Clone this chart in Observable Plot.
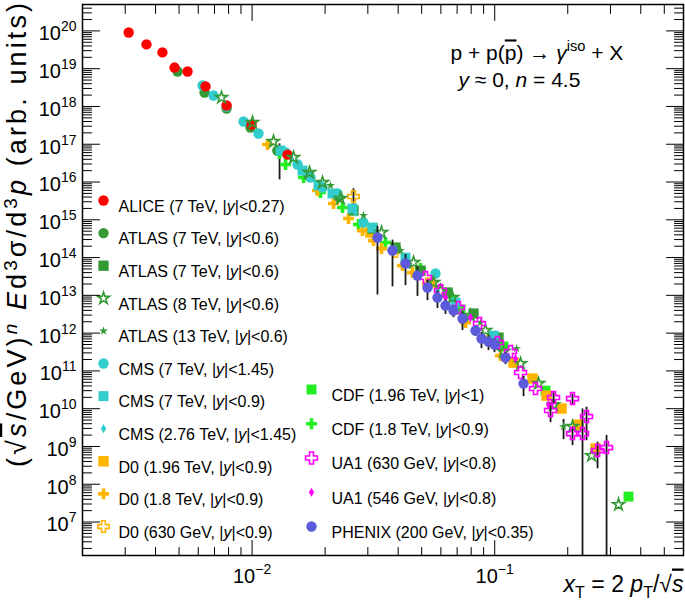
<!DOCTYPE html>
<html><head><meta charset="utf-8">
<script src="https://cdn.jsdelivr.net/npm/d3@7"></script>
<script src="https://cdn.jsdelivr.net/npm/@observablehq/plot@0.6"></script>
<style>
html,body{margin:0;padding:0;background:#fff;}
#chart svg{display:block;}
</style></head><body><div id="chart"></div>
<script>
const FONT = "'Liberation Sans', Arial, Helvetica, sans-serif";

// ---- axes ----
const xDomain = [0.002, 0.6];
const yDomain = [1.3e6, 5e20];
const yTickExponents = [7, 8, 9, 10, 11, 12, 13, 14, 15, 16, 17, 18, 19, 20];
const xTickExponents = [-2, -1];
const minorMultipliers = [2, 3, 4, 5, 6, 7, 8, 9];

// ---- data (x_T, scaled cross section, relative error) ----
const ALICE_xT = [0.00310, 0.00367, 0.00427, 0.00479, 0.00542, 0.00643, 0.00785, 0.00995, 0.0140];
const ALICE_y  = [9.1e19, 4.4e19, 2.7e19, 1.07e19, 8.4e18, 3.4e18, 1.06e18, 3.3e17, 5.3e16];

const ATLAS7c_xT = [0.00493, 0.00637, 0.00785, 0.00985, 0.0127, 0.0171, 0.0227];
const ATLAS7c_y  = [8.4e18, 2.34e18, 8.8e17, 2.77e17, 6.8e16, 1.49e16, 4.1e15];

const ATLAS7s_xT = [0.0262, 0.0314, 0.0390, 0.0494, 0.0639, 0.0818, 0.1037];
const ATLAS7s_y  = [1.76e15, 5.87e14, 1.84e14, 4.53e13, 1.19e13, 3.30e12, 7.63e11];

const ATLAS8_xT = [0.00748, 0.01004, 0.01225, 0.01482, 0.01725, 0.01951, 0.02314, 0.03415, 0.04627, 0.05594, 0.0670, 0.07946, 0.09163, 0.1088, 0.1278, 0.1516, 0.1748, 0.2093, 0.2507, 0.3239];
const ATLAS8_y  = [1.725e18, 3.76e17, 1.18e17, 4.45e16, 1.78e16, 9.69e15, 3.65e15, 4.60e14, 7.38e13, 2.18e13, 8.74e12, 2.92e12, 1.17e12, 3.25e11, 1.56e11, 4.62e10, 1.28e10, 3.36e9, 5.73e8, 2.89e7];

const ATLAS13_xT  = [0.02105, 0.02878, 0.0409, 0.05978, 0.08738, 0.1230, 0.1922];
const ATLAS13_y   = [8.08e15, 1.30e15, 1.535e14, 1.71e13, 1.90e12, 3.9e11, 3.36e9];
const ATLAS13_err = [0, 0, 0, 0, 0, 0, 0.55];

const CMS7c_xT = [0.00625, 0.00694, 0.00785, 0.00922, 0.01063, 0.01374, 0.0154, 0.01741, 0.01951, 0.02249, 0.02878, 0.05701];
const CMS7c_y  = [3.59e18, 1.95e18, 9.96e17, 3.99e17, 1.92e17, 6.04e16, 2.91e16, 1.32e16, 7.15e15, 4.96e15, 8.46e14, 3.78e13];

const CMS7s_xT = [0.0131, 0.01614, 0.01878, 0.02145, 0.02593, 0.03135, 0.04289, 0.06893, 0.09886];
const CMS7s_y  = [6.82e16, 2.01e16, 8.08e15, 4.96e15, 1.99e15, 6.24e14, 1.00e14, 6.44e12, 8.62e11];

const CMS276_xT = [0.01454, 0.01969, 0.02668, 0.0390, 0.0581];
const CMS276_y  = [4.19e16, 7.6e15, 1.56e15, 1.63e14, 1.34e13];

const D0196_xT = [0.03076, 0.05437, 0.09608, 0.1196, 0.1432, 0.1636, 0.1886, 0.2195, 0.2604];
const D0196_y  = [4.60e14, 2.18e13, 6.35e11, 1.66e11, 6.27e10, 2.22e10, 1.01e10, 3.79e9, 8.78e8];

const D018_xT = [0.01158, 0.0186, 0.02166, 0.02497, 0.02851, 0.03165, 0.03415, 0.04169, 0.04583, 0.05284, 0.07578, 0.1057];
const D018_y  = [9.83e16, 5.95e15, 2.70e15, 1.08e15, 5.19e14, 2.82e14, 1.73e14, 6.15e13, 4.01e13, 2.05e13, 1.90e12, 2.55e11];

const D0630_xT  = [0.02618, 0.0390, 0.05978];
const D0630_y   = [4.13e15, 1.44e14, 1.34e13];
const D0630_err = [0.6, 0, 0];

const CDF196_xT = [0.07227, 0.1088, 0.1620, 0.2215, 0.3561];
const CDF196_y  = [4.21e12, 4.41e11, 3.01e10, 3.57e9, 4.71e7];

const CDF18_xT  = [0.01298, 0.01374, 0.0163, 0.01914, 0.02358, 0.02744, 0.03547, 0.04944, 0.06573];
const CDF18_y   = [5.68e16, 2.91e16, 1.32e16, 5.27e15, 2.11e15, 7.49e14, 2.50e14, 5.12e13, 9.29e12];
const CDF18_err = [0.8, 0, 0, 0, 0, 0, 0, 0, 0];

const UA1630_xT  = [0.05184, 0.05978, 0.07091, 0.08656, 0.1027, 0.1162, 0.1278, 0.1473, 0.1748, 0.1699, 0.2093, 0.2093, 0.2301, 0.2391, 0.2654, 0.2891];
const UA1630_y   = [2.96e13, 1.34e13, 4.75e12, 1.79e12, 5.62e11, 3.25e11, 9.03e10, 3.41e10, 1.97e10, 8.91e9, 1.85e10, 2.19e9, 2.19e9, 6.18e9, 7.77e8, 9.33e8];
const UA1630_err = [0, 0, 0, 0, 0, 0, 0, 0, 0.35, 0.52, 0.3, 0.52, 3.5, 0.77, 0.67, 1.1];

const UA1546_xT = [0.06269, 0.07946, 0.1218, 0.1667];
const UA1546_y  = [8.74e12, 2.58e12, 2.12e11, 1.28e10];

const PHENIX_xT  = [0.03287, 0.03791, 0.04289, 0.04805, 0.05284, 0.0581, 0.06269, 0.06763, 0.07366, 0.08332, 0.08821, 0.09427, 0.0998, 0.1108, 0.1315];
const PHENIX_y   = [3.39e14, 1.535e14, 6.95e13, 3.34e13, 1.61e13, 8.74e12, 5.37e12, 3.96e12, 2.43e12, 1.17e12, 7.18e11, 5.98e11, 4.98e11, 2.25e11, 4.62e10];
const PHENIX_err = [0.97, 0.89, 0.74, 0.72, 0.55, 0.49, 0.42, 0.35, 0.52, 0.3, 0.46, 0.42, 0.39, 0.35, 0.55];

// ---- legend labels ----
const legendLabels = {
  ALICE:   "ALICE (7 TeV, |*y*|<0.27)",
  ATLAS7c: "ATLAS (7 TeV, |*y*|<0.6)",
  ATLAS7s: "ATLAS (7 TeV, |*y*|<0.6)",
  ATLAS8:  "ATLAS (8 TeV, |*y*|<0.6)",
  ATLAS13: "ATLAS (13 TeV, |*y*|<0.6)",
  CMS7c:   "CMS (7 TeV, |*y*|<1.45)",
  CMS7s:   "CMS (7 TeV, |*y*|<0.9)",
  CMS276:  "CMS (2.76 TeV, |*y*|<1.45)",
  D0196:   "D0 (1.96 TeV, |*y*|<0.9)",
  D018:    "D0 (1.8 TeV, |*y*|<0.9)",
  D0630:   "D0 (630 GeV, |*y*|<0.9)",
  CDF196:  "CDF (1.96 TeV, |*y*|<1)",
  CDF18:   "CDF (1.8 TeV, |*y*|<0.9)",
  UA1630:  "UA1 (630 GeV, |*y*|<0.8)",
  UA1546:  "UA1 (546 GeV, |*y*|<0.8)",
  PHENIX:  "PHENIX (200 GeV, |*y*|<0.35)"
};

// ---- styles ----
const GREEN = "#339933", CYAN = "#33cccc", ORANGE = "#ffb400", LIME = "#22ee22", MAGENTA = "#ff00ff", RED = "#ff0000", BLUE = "#5b5bdb";
const series = {
  ALICE:   {xT: ALICE_xT,   y: ALICE_y,   symbol: "circle",  color: RED,     r: 5.2},
  ATLAS7c: {xT: ATLAS7c_xT, y: ATLAS7c_y, symbol: "circle",  color: GREEN,   r: 5.2},
  ATLAS7s: {xT: ATLAS7s_xT, y: ATLAS7s_y, symbol: "square",  color: GREEN,   r: 5.8},
  ATLAS8:  {xT: ATLAS8_xT,  y: ATLAS8_y,  symbol: "star",    color: GREEN,   r: 3.7, open: true},
  ATLAS13: {xT: ATLAS13_xT, y: ATLAS13_y, err: ATLAS13_err, symbol: "star", color: GREEN, r: 2.8},
  CMS7c:   {xT: CMS7c_xT,   y: CMS7c_y,   symbol: "circle",  color: CYAN,    r: 5.2},
  CMS7s:   {xT: CMS7s_xT,   y: CMS7s_y,   symbol: "square",  color: CYAN,    r: 5.6},
  CMS276:  {xT: CMS276_xT,  y: CMS276_y,  symbol: "diamond", color: CYAN,    r: 2.8},
  D0196:   {xT: D0196_xT,   y: D0196_y,   symbol: "square",  color: ORANGE,  r: 5.9},
  D018:    {xT: D018_xT,    y: D018_y,    symbol: "cross",   color: ORANGE,  r: 4.6},
  D0630:   {xT: D0630_xT,   y: D0630_y,   err: D0630_err, symbol: "cross", color: ORANGE, r: 4.8, open: true},
  CDF196:  {xT: CDF196_xT,  y: CDF196_y,  symbol: "square",  color: LIME,    r: 5.6},
  CDF18:   {xT: CDF18_xT,   y: CDF18_y,   err: CDF18_err, symbol: "cross", color: LIME, r: 4.6},
  UA1630:  {xT: UA1630_xT,  y: UA1630_y,  err: UA1630_err, symbol: "cross", color: MAGENTA, r: 5.0, open: true},
  UA1546:  {xT: UA1546_xT,  y: UA1546_y,  symbol: "diamond", color: MAGENTA, r: 2.8},
  PHENIX:  {xT: PHENIX_xT,  y: PHENIX_y,  err: PHENIX_err, symbol: "circle", color: BLUE, r: 5.2}
};
const drawOrder = ["CDF196", "CDF18", "D0196", "D018", "D0630", "ATLAS7c", "ATLAS7s", "CMS276", "CMS7s", "CMS7c", "ALICE", "ATLAS13", "ATLAS8", "UA1546", "UA1630", "PHENIX"];
const legendLeft = ["ALICE", "ATLAS7c", "ATLAS7s", "ATLAS8", "ATLAS13", "CMS7c", "CMS7s", "CMS276", "D0196", "D018", "D0630"];
const legendRight = ["CDF196", "CDF18", "UA1630", "UA1546", "PHENIX"];

// ---- texts ----
const yTitle = "(√~*s*~/GeV)^{*n*} *E*d^{3}σ/d^{3}*p* (arb. units)";
const xTitle = "*x*_{T} = 2 *p*_{T}/√~*s*~";
const annotation1 = "p + p(~p~) → *γ*^{iso} + X";
const annotation2 = "*y* ≈ 0, *n* = 4.5";

// ---- build marks ----
const marks = [];
for (const key of drawOrder) {
  const s = series[key];
  const rows = s.xT.map((x, i) => ({x, y: s.y[i], e: s.err ? s.err[i] : 0}));
  const errRows = rows.filter(d => d.e > 0).map(d => ({x: d.x, lo: Math.max(d.y * (1 - d.e), yDomain[0]), hi: d.y * (1 + d.e)}));
  if (errRows.length) marks.push(Plot.ruleX(errRows, {x: "x", y1: "lo", y2: "hi", stroke: "#1a1a1a", strokeWidth: 1.8}));
  marks.push(Plot.dot(rows, {
    x: "x", y: "y", symbol: s.symbol, r: s.r,
    fill: s.open ? "none" : s.color,
    stroke: s.open ? s.color : "none",
    strokeWidth: s.open ? 1.6 : 0
  }));
}

// legend
function legendItem(key, mx, tx, ty) {
  const s = series[key];
  marks.push(Plot.dot([0], {frameAnchor: "top-left", dx: mx, dy: ty, symbol: s.symbol, r: s.r,
    fill: s.open ? "none" : s.color, stroke: s.open ? s.color : "none", strokeWidth: s.open ? 1.6 : 0}));
  marks.push(Plot.text([legendLabels[key]], {frameAnchor: "top-left", dx: tx, dy: ty, text: d => d, textAnchor: "start", fontSize: 16, fill: "black"}));
}
legendLeft.forEach((k, i) => legendItem(k, 21, 36, 196 + i * 32.6));
legendRight.forEach((k, i) => legendItem(k, 229, 249, 385 + i * 34.25));

// ticks
const yMajor = yTickExponents.map(e => 10 ** e);
const yMinor = [];
for (let e = 6; e <= 20; e++) for (const m of minorMultipliers) { const v = m * 10 ** e; if (v > yDomain[0] && v < yDomain[1]) yMinor.push(v); }
const xMajor = xTickExponents.map(e => 10 ** e);
const xMinor = [];
for (let e = -3; e <= -1; e++) for (const m of minorMultipliers) { const v = m * 10 ** e; if (v > xDomain[0] * 1.001 && v < xDomain[1] * 0.999) xMinor.push(v); }

const toRight = {draw(c, l) { c.moveTo(0, 0); c.lineTo(l, 0); }};
const toLeft  = {draw(c, l) { c.moveTo(0, 0); c.lineTo(-l, 0); }};
const toUp    = {draw(c, l) { c.moveTo(0, 0); c.lineTo(0, -l); }};
const toDown  = {draw(c, l) { c.moveTo(0, 0); c.lineTo(0, l); }};
const tickOpts = {anchor: "start", stroke: "black", strokeWidth: 1};
marks.push(
  Plot.vector(yMajor, {...tickOpts, y: d => d, frameAnchor: "left", shape: toRight, length: 17}),
  Plot.vector(yMinor, {...tickOpts, y: d => d, frameAnchor: "left", shape: toRight, length: 9}),
  Plot.vector(yMajor, {...tickOpts, y: d => d, frameAnchor: "right", shape: toLeft, length: 17}),
  Plot.vector(yMinor, {...tickOpts, y: d => d, frameAnchor: "right", shape: toLeft, length: 9}),
  Plot.vector(xMajor, {...tickOpts, x: d => d, frameAnchor: "bottom", shape: toUp, length: 15}),
  Plot.vector(xMinor, {...tickOpts, x: d => d, frameAnchor: "bottom", shape: toUp, length: 8}),
  Plot.vector(xMajor, {...tickOpts, x: d => d, frameAnchor: "top", shape: toDown, length: 16}),
  Plot.vector(xMinor, {...tickOpts, x: d => d, frameAnchor: "top", shape: toDown, length: 9}),
  Plot.frame({stroke: "black", strokeWidth: 1.5}),
  Plot.text(yMajor, {y: d => d, text: d => `10^{${Math.round(Math.log10(d))}}`, frameAnchor: "left", textAnchor: "end", dx: -6, dy: 3, fontSize: 20, fill: "black"}),
  Plot.text(xMajor, {x: d => d, text: d => `10^{−${Math.round(-Math.log10(d))}}`, frameAnchor: "bottom", textAnchor: "middle", dy: 27, fontSize: 20, fill: "black"}),
  Plot.text([xTitle], {frameAnchor: "bottom-right", text: d => d, textAnchor: "end", dx: 0, dy: 36, fontSize: 23, fill: "black"}),
  Plot.text([yTitle], {frameAnchor: "top-left", text: d => d, textAnchor: "end", rotate: -90, dx: -62, dy: 1, fontSize: 27, fill: "black"}),
  Plot.text([annotation1], {frameAnchor: "top-left", text: d => d, textAnchor: "start", dx: 368, dy: 41, fontSize: 21, fill: "black"}),
  Plot.text([annotation2], {frameAnchor: "top-left", text: d => d, textAnchor: "start", dx: 376, dy: 68, fontSize: 21, fill: "black"})
);

const svg = Plot.plot({
  width: 685, height: 615,
  marginLeft: 82, marginRight: 2, marginTop: 4, marginBottom: 60,
  style: {fontFamily: FONT, background: "white", color: "black"},
  x: {type: "log", domain: xDomain, axis: null},
  y: {type: "log", domain: yDomain, axis: null},
  marks
});
document.getElementById("chart").appendChild(svg);

// ---- rich text post-processing: *italic*, ~overline~, ^{sup}, _{sub} ----
const SVGNS = "http://www.w3.org/2000/svg";
function richify(el, supRaise = 0.45) {
  const s = el.textContent;
  if (!/[\*~]|\^\{|_\{/.test(s)) return;
  const base = parseFloat(getComputedStyle(el).fontSize) || 16;
  const runs = [];
  let buf = "", italic = false, over = false, mode = 0;
  const flush = () => { if (buf) runs.push({t: buf, italic, over, mode}); buf = ""; };
  for (let i = 0; i < s.length; i++) {
    const c = s[i];
    if (c === "*") { flush(); italic = !italic; }
    else if (c === "~") { flush(); over = !over; }
    else if ((c === "^" || c === "_") && s[i + 1] === "{") { flush(); mode = c === "^" ? 1 : -1; i++; }
    else if (c === "}" && mode) { flush(); mode = 0; }
    else buf += c;
  }
  flush();
  while (el.firstChild) el.removeChild(el.firstChild);
  let cur = 0;
  for (const r of runs) {
    const ts = document.createElementNS(SVGNS, "tspan");
    const target = r.mode === 1 ? -supRaise * base : r.mode === -1 ? 0.28 * base : 0;
    if (target !== cur) { ts.setAttribute("dy", (target - cur).toFixed(2)); cur = target; }
    if (r.mode) ts.setAttribute("font-size", (0.7 * base).toFixed(2));
    if (r.italic) ts.setAttribute("font-style", "italic");
    if (r.over) ts.setAttribute("text-decoration", "overline");
    ts.textContent = r.t;
    el.appendChild(ts);
  }
}
svg.querySelectorAll("text").forEach(el => {
  const isTitle = el.textContent.includes("arb. units");
  richify(el, isTitle ? 0.3 : 0.45);
  if (isTitle) {
    // stretch to the reference's span and place: right edge of box at x=31.5, top at y=3
    el.setAttribute("textLength", "464");
    el.setAttribute("lengthAdjust", "spacing");
    const r = el.getBoundingClientRect(), s = svg.getBoundingClientRect();
    const sx = 31.5 - (r.right - s.left), sy = 3 - (r.top - s.top);
    el.setAttribute("transform", `translate(${sx.toFixed(2)},${sy.toFixed(2)}) ${el.getAttribute("transform") || ""}`);
  }
});
</script></body></html>
